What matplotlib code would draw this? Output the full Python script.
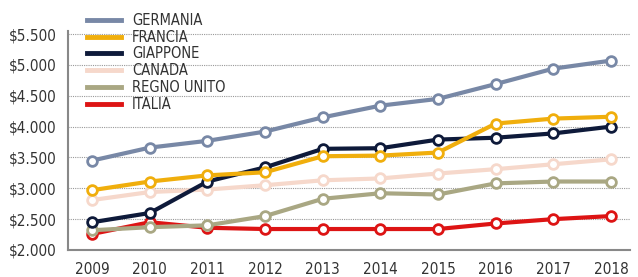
import matplotlib.pyplot as plt
from matplotlib.ticker import FuncFormatter

years = [2009, 2010, 2011, 2012, 2013, 2014, 2015, 2016, 2017, 2018]

germania = [3450, 3660, 3770, 3920, 4150, 4340, 4450, 4690, 4940, 5070]
francia = [2970, 3110, 3210, 3260, 3520, 3530, 3580, 4050, 4130, 4160]
giappone = [2450, 2600, 3110, 3340, 3640, 3650, 3790, 3820, 3890, 4000]
canada = [2810, 2940, 2980, 3050, 3130, 3160, 3240, 3310, 3390, 3470]
regno_unito = [2320, 2370, 2400, 2550, 2830, 2920, 2900, 3080, 3110, 3110]
italia = [2260, 2450, 2360, 2340, 2340, 2340, 2340, 2430, 2500, 2550]

series = [
    ("GERMANIA", germania, "#7888a6"),
    ("FRANCIA", francia, "#f0ae0c"),
    ("GIAPPONE", giappone, "#0e1a3a"),
    ("CANADA", canada, "#f6d8cb"),
    ("REGNO UNITO", regno_unito, "#a9a783"),
    ("ITALIA", italia, "#dd1414"),
]

plt.rcParams['font.family'] = ['DejaVu Sans']
plt.rcParams['font.stretch'] = 'condensed'

fig = plt.figure(figsize=(6.38, 2.77), dpi=100)
ax = fig.add_axes([68 / 638, 1 - 250 / 277, 562 / 638, 219 / 277])

for z, (name, vals, col) in enumerate(series):
    ax.plot(years, vals, color=col, lw=3, marker='o', ms=7,
            mfc='white', mec=col, mew=2, label=name, zorder=10 - z)

ax.set_xlim(2008.58, 2018.33)
ax.set_ylim(2000, 5550)
ax.set_xticks(years)
ax.set_yticks(range(2000, 5501, 500))
ax.yaxis.set_major_formatter(FuncFormatter(
    lambda v, p: r'\$' + '{:,.0f}'.format(v).replace(',', '.')))
ax.tick_params(length=0, labelsize=11, colors='#333333', pad=8)
ax.tick_params(axis='x', pad=9)

# dotted guides
for v in range(2500, 5501, 500):
    ax.axhline(v, color='#999999', lw=0.8, ls=(0, (1, 1)), zorder=0)

for s in ['top', 'right']:
    ax.spines[s].set_visible(False)
for s in ['left', 'bottom']:
    ax.spines[s].set_color('#888888')
    ax.spines[s].set_linewidth(1.5)

leg = ax.legend(loc='upper left', bbox_to_anchor=(87 / 638, 1 - 13 / 277),
                bbox_transform=fig.transFigure, frameon=False, fontsize=10.5,
                handlelength=2.3, handletextpad=0.8, labelspacing=0.12,
                borderpad=0, borderaxespad=0)
for line in leg.get_lines():
    line.set_marker('')
    line.set_linewidth(3.5)
for t in leg.get_texts():
    t.set_color('#333333')

fig.savefig('out.png', dpi=100)
